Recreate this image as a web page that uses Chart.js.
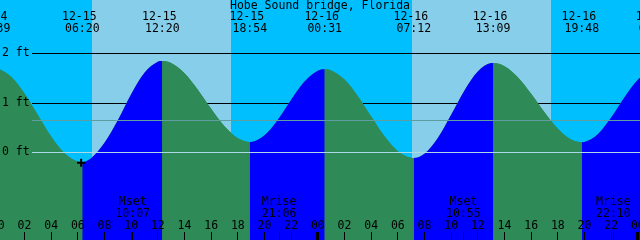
<!DOCTYPE html>
<html lang="en">
<head>
<meta charset="UTF-8">
<title>Hobe Sound bridge, Florida</title>
<style>
  html, body { margin: 0; padding: 0; background: #00bfff; }
  #tideChart { display: block; }
</style>
</head>
<body>
<canvas id="tideChart" width="640" height="240"></canvas>
<script src="https://cdn.jsdelivr.net/npm/chart.js"></script>
<script>
const stationName = 'Hobe Sound bridge, Florida';

// hours counted from 12-15 00:00, heights in feet
const tideHours = [0, 1, 2, 3, 4, 5, 6, 6.333,
  7, 8, 9, 10, 11, 12, 12.333,
  13, 14, 15, 16, 17, 18, 18.9,
  19, 20, 21, 22, 23, 24, 24.517,
  25, 26, 27, 28, 29, 30, 31, 31.2,
  32, 33, 34, 35, 36, 37, 37.15,
  38, 39, 40, 41, 42, 43, 43.8,
  44, 45, 46, 47, 48, 49, 49.36];
const tideFeet = [1.707, 1.534, 1.195, 0.761, 0.328, -0.008, -0.178, -0.19,
  -0.11, 0.20, 0.655, 1.182, 1.616, 1.839, 1.855,
  1.814, 1.608, 1.275, 0.887, 0.533, 0.292, 0.218,
  0.219, 0.353, 0.669, 1.072, 1.438, 1.657, 1.687,
  1.664, 1.478, 1.143, 0.731, 0.333, 0.032, -0.101, -0.105,
  -0.021, 0.297, 0.766, 1.260, 1.643, 1.811, 1.814,
  1.750, 1.527, 1.191, 0.817, 0.485, 0.268, 0.212,
  0.217, 0.374, 0.710, 1.119, 1.474, 1.665, 1.68];

const eventHours = [-0.35, 6.333, 12.333, 18.9, 24.517, 31.2, 37.15, 43.8, 49.36];
const eventDates = ['12-14', '12-15', '12-15', '12-15', '12-16', '12-16', '12-16', '12-16', '12-17'];
const eventTimes = ['23:39', '06:20', '12:20', '18:54', '00:31', '07:12', '13:09', '19:48', '01:22'];

const sunriseHours = [7.06, 31.06];
const sunsetHours = [17.49, 41.49];

const moonHours = [10.117, 21.1, 34.917, 46.167];
const moonNames = ['Mset', 'Mrise', 'Mset', 'Mrise'];
const moonTimes = ['10:07', '21:06', '10:55', '22:10'];

const hourTicks = [0, 2, 4, 6, 8, 10, 12, 14, 16, 18, 20, 22, 24, 26, 28, 30, 32, 34, 36, 38, 40, 42, 44, 46, 48];
const hourLabels = ['00', '02', '04', '06', '08', '10', '12', '14', '16', '18', '20', '22',
  '00', '02', '04', '06', '08', '10', '12', '14', '16', '18', '20', '22', '00'];

const depthLines = [2, 1];
const depthValues = [2, 1, 0];
const depthLabels = ['2 ft', '1 ft', '0 ft'];
const datumLevel = 0;
const meanLevel = 0.65;

const markHours = [6.25];
const markFeet = [-0.2];

const NIGHT = '#00bfff', DAY = '#87ceeb';
const RISE = '#0000ff', FALL = '#2e8b57';
const FONT = '11.5px "DejaVu Sans Mono", monospace';

function hline(ctx, py, x0, x1) {
  const yy = Math.floor(py) + 0.5;
  ctx.beginPath();
  ctx.moveTo(x0, yy);
  ctx.lineTo(x1, yy);
  ctx.stroke();
}

const tideDecor = {
  id: 'tideDecor',
  beforeDraw(chart) {
    const { ctx, chartArea: a, scales: { x, y } } = chart;
    ctx.save();
    ctx.fillStyle = NIGHT;
    ctx.fillRect(a.left, a.top, a.width, a.height);
    ctx.fillStyle = DAY;
    sunriseHours.forEach((h, i) => {
      const x0 = Math.round(x.getPixelForValue(h));
      const x1 = Math.round(x.getPixelForValue(sunsetHours[i]));
      ctx.fillRect(x0, a.top, x1 - x0, a.height);
    });
    ctx.strokeStyle = '#000';
    ctx.lineWidth = 1;
    depthLines.forEach(v => hline(ctx, y.getPixelForValue(v), 32, a.right));
    ctx.restore();
  },
  afterDatasetsDraw(chart) {
    const { ctx, chartArea: a, scales: { x, y } } = chart;
    ctx.save();
    ctx.lineWidth = 1;
    ctx.strokeStyle = '#5f9ea0';
    hline(ctx, y.getPixelForValue(meanLevel), 32, a.right);
    ctx.strokeStyle = '#add8e6';
    hline(ctx, y.getPixelForValue(datumLevel), 32, a.right);

    ctx.fillStyle = '#000';
    ctx.font = FONT;
    ctx.textBaseline = 'middle';
    ctx.textAlign = 'center';
    ctx.fillText(stationName, 320, 6.5);

    eventHours.forEach((h, i) => {
      const px = x.getPixelForValue(h);
      ctx.fillText(eventDates[i], px - 3, 17.5);
      ctx.fillText(eventTimes[i], px, 29.5);
    });

    moonHours.forEach((h, i) => {
      const px = x.getPixelForValue(h);
      ctx.fillText(moonNames[i], px, 202.5);
      ctx.fillText(moonTimes[i], px, 214.5);
      ctx.fillRect(Math.floor(px), 232, 1, 8);
    });

    hourTicks.forEach((h, i) => {
      const px = x.getPixelForValue(h);
      ctx.fillText(hourLabels[i], px, 226);
      if (h % 24 === 0) ctx.fillRect(Math.floor(px) - 1, 232, 3, 8);
      else ctx.fillRect(Math.floor(px), 232, 1, 8);
    });

    ctx.textAlign = 'left';
    depthValues.forEach((v, i) => {
      ctx.fillText(depthLabels[i], 2, Math.floor(y.getPixelForValue(v)) + 0.5);
    });
    ctx.restore();
  }
};

const tidePoints = tideHours.map((h, i) => ({ x: h, y: tideFeet[i] }));

new Chart(document.getElementById('tideChart'), {
  type: 'line',
  data: {
    datasets: [
      {
        // "+" time marker
        data: markHours.map((h, i) => ({ x: h, y: markFeet[i] })),
        order: 0,
        showLine: false,
        fill: false,
        pointStyle: 'cross',
        pointRadius: 4,
        borderWidth: 2,
        borderColor: '#000'
      },
      {
        // rising / falling water
        data: tidePoints,
        order: 1,
        fill: 'start',
        cubicInterpolationMode: 'monotone',
        borderWidth: 0,
        borderColor: 'rgba(0,0,0,0)',
        backgroundColor: FALL,
        pointRadius: 0,
        segment: {
          backgroundColor: c => c.p1.parsed.y >= c.p0.parsed.y ? RISE : FALL
        }
      },
      {
        // plain underlay so segment joins leave no seams
        data: tidePoints,
        order: 2,
        fill: 'start',
        cubicInterpolationMode: 'monotone',
        borderWidth: 0,
        borderColor: 'rgba(0,0,0,0)',
        backgroundColor: FALL,
        pointRadius: 0
      }
    ]
  },
  options: {
    responsive: false,
    devicePixelRatio: 1,
    animation: false,
    events: [],
    layout: { padding: 0, autoPadding: false },
    plugins: { legend: { display: false }, tooltip: { enabled: false } },
    scales: {
      x: { type: 'linear', min: 0.163, max: 48.163, display: false },
      y: { min: -1.7626, max: 3.0859, display: false }
    }
  },
  plugins: [tideDecor]
});
</script>
</body>
</html>
